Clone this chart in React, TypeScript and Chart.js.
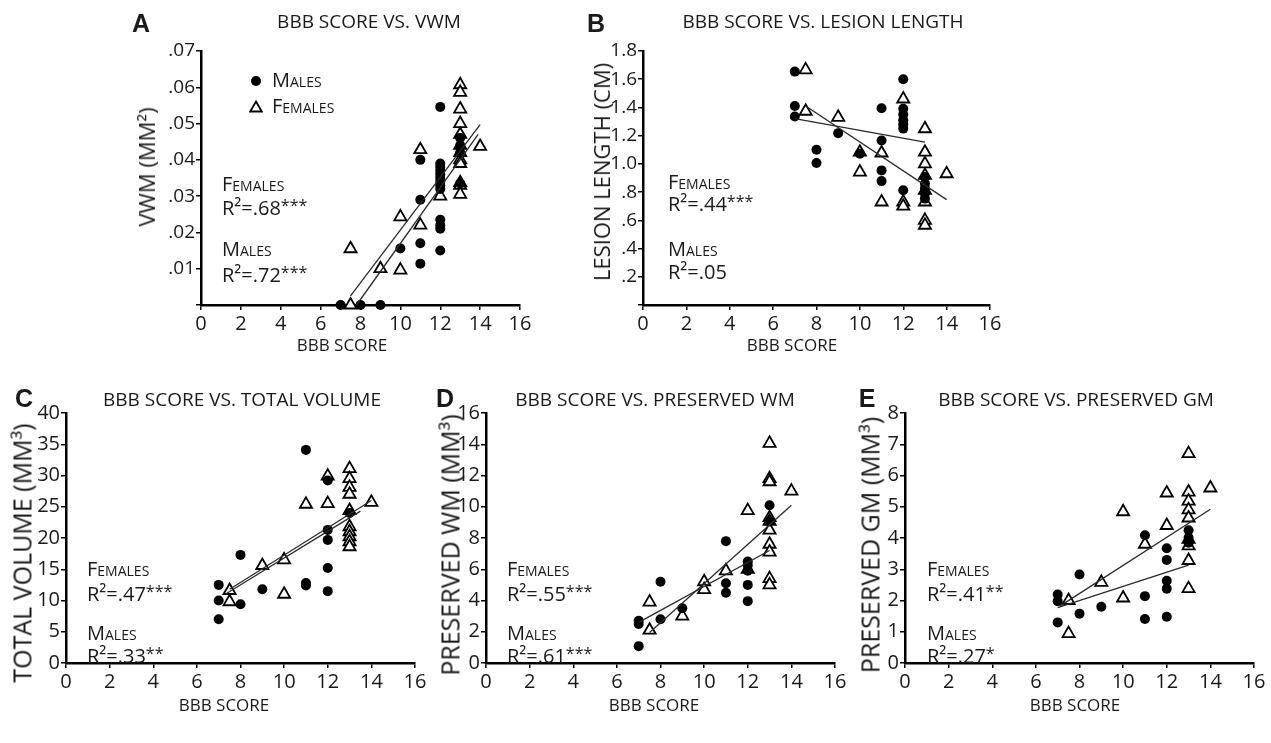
import React, { useEffect, useRef } from 'react';
import { Chart, registerables } from 'chart.js';

Chart.register(...registerables);

type Pt = [number, number];

// ---------- shared x axis ----------
const BBB_TICKS = [0, 2, 4, 6, 8, 10, 12, 14, 16];
const BBB_LABELS = ['0', '2', '4', '6', '8', '10', '12', '14', '16'];

// ---------- Panel A : VWM ----------
const A_Y_TICKS = [0, 0.01, 0.02, 0.03, 0.04, 0.05, 0.06, 0.07];
const A_Y_LABELS = ['', '.01', '.02', '.03', '.04', '.05', '.06', '.07'];
const A_MALES: Pt[] = [
  [7, 0], [8, 0], [9, 0], [10, 0.0156],
  [11, 0.04], [11, 0.029], [11, 0.017], [11, 0.0114],
  [12, 0.0546], [12, 0.039], [12, 0.038], [12, 0.037], [12, 0.036], [12, 0.035], [12, 0.034],
  [12, 0.033], [12, 0.032], [12, 0.0235], [12, 0.022], [12, 0.021], [12, 0.015],
  [13, 0.046], [13, 0.044], [13, 0.042], [13, 0.0335],
];
const A_FEMALES: Pt[] = [
  [7.5, 0], [7.5, 0.0155], [9, 0.01], [10, 0.0243], [10, 0.0096], [11, 0.0428], [11, 0.022], [12, 0.03],
  [13, 0.0607], [13, 0.0586], [13, 0.054], [13, 0.05], [13, 0.047], [13, 0.044], [13, 0.042], [13, 0.04],
  [13, 0.039], [13, 0.0337], [13, 0.033], [13, 0.0305], [14, 0.0437],
];
const A_FIT_MALES: Pt[] = [[7.8, 0.0], [13.9, 0.047]];
const A_FIT_FEMALES: Pt[] = [[7.5, 0.0025], [14, 0.0497]];

// ---------- Panel B : lesion length ----------
const B_Y_TICKS = [0, 0.2, 0.4, 0.6, 0.8, 1.0, 1.2, 1.4, 1.6, 1.8];
const B_Y_LABELS = ['', '.2', '.4', '.6', '.8', '1.0', '1.2', '1.4', '1.6', '1.8'];
const B_MALES: Pt[] = [
  [7, 1.654], [7, 1.41], [7, 1.336], [8, 1.1], [8, 1.006], [9, 1.218], [10, 1.072],
  [11, 1.394], [11, 1.166], [11, 0.954], [11, 0.878],
  [12, 1.6], [12, 1.39], [12, 1.35], [12, 1.31], [12, 1.28], [12, 1.25], [12, 0.813],
  [13, 0.907], [13, 0.86], [13, 0.825], [13, 0.79], [13, 0.754],
];
const B_FEMALES: Pt[] = [
  [7.5, 1.666], [7.5, 1.373], [9, 1.33], [10, 1.083], [10, 0.942], [11, 1.077], [11, 0.73],
  [12, 1.46], [12, 0.73], [12, 0.7],
  [13, 1.249], [13, 1.083], [13, 1.0], [13, 0.918], [13, 0.813], [13, 0.73], [13, 0.6], [13, 0.565],
  [14, 0.93],
];
const B_FIT_MALES: Pt[] = [[7, 1.32], [13, 1.154]];
const B_FIT_FEMALES: Pt[] = [[7.5, 1.41], [14, 0.747]];

// ---------- Panel C : total volume ----------
const C_Y_TICKS = [0, 5, 10, 15, 20, 25, 30, 35, 40];
const C_Y_LABELS = ['0', '5', '10', '15', '20', '25', '30', '35', '40'];
const C_MALES: Pt[] = [
  [7, 12.5], [7, 10.0], [7, 7.0], [8, 17.3], [8, 9.4], [9, 11.8],
  [11, 34.1], [11, 12.8], [11, 12.4],
  [12, 29.2], [12, 21.3], [12, 19.7], [12, 15.2], [12, 11.5], [13, 24.0],
];
const C_FEMALES: Pt[] = [
  [7.5, 11.6], [7.5, 9.8], [9, 15.6], [10, 16.5], [10, 11.0], [11, 25.4], [12, 29.9], [12, 25.5],
  [13, 31.1], [13, 29.5], [13, 28.1], [13, 27.0], [13, 24.4], [13, 21.8], [13, 21.0], [13, 20.2],
  [13, 19.4], [13, 18.6], [14, 25.7],
];
const C_FIT_MALES: Pt[] = [[7.3, 11.0], [13.5, 24.3]];
const C_FIT_FEMALES: Pt[] = [[7.5, 11.8], [14, 26.0]];

// ---------- Panel D : preserved WM ----------
const D_Y_TICKS = [0, 2, 4, 6, 8, 10, 12, 14, 16];
const D_Y_LABELS = ['0', '2', '4', '6', '8', '10', '12', '14', '16'];
const D_MALES: Pt[] = [
  [7, 2.7], [7, 2.5], [7, 1.08], [8, 5.2], [8, 2.8], [9, 3.5],
  [11, 7.8], [11, 5.1], [11, 4.5],
  [12, 6.5], [12, 6.25], [12, 5.9], [12, 5.0], [12, 3.96], [13, 10.1], [13, 9.06],
];
const D_FEMALES: Pt[] = [
  [7.5, 3.9], [7.5, 2.1], [9, 3.0], [10, 5.2], [10, 4.7], [11, 5.9], [12, 9.75], [12, 6.0],
  [13, 14.06], [13, 11.8], [13, 11.6], [13, 9.3], [13, 9.06], [13, 8.5], [13, 7.6], [13, 7.1],
  [13, 5.4], [13, 5.0], [14, 11.0],
];
const D_FIT_MALES: Pt[] = [[7, 2.6], [13, 7.2]];
const D_FIT_FEMALES: Pt[] = [[7.5, 1.95], [14, 10.1]];

// ---------- Panel E : preserved GM ----------
const E_Y_TICKS = [0, 1, 2, 3, 4, 5, 6, 7, 8];
const E_Y_LABELS = ['0', '1', '2', '3', '4', '5', '6', '7', '8'];
const E_MALES: Pt[] = [
  [7, 2.19], [7, 1.98], [7, 1.3], [8, 2.83], [8, 1.58], [9, 1.8],
  [11, 4.09], [11, 2.14], [11, 1.41],
  [12, 3.67], [12, 3.3], [12, 2.63], [12, 2.38], [12, 1.48],
  [13, 4.25], [13, 4.01], [13, 3.85],
];
const E_FEMALES: Pt[] = [
  [7.5, 2.0], [7.5, 0.94], [9, 2.58], [10, 4.84], [10, 2.08], [11, 3.8], [12, 5.44], [12, 4.4],
  [13, 6.7], [13, 5.47], [13, 5.18], [13, 4.9], [13, 4.64], [13, 3.96], [13, 3.75], [13, 3.28],
  [13, 2.38], [14, 5.6],
];
const E_FIT_MALES: Pt[] = [[7, 1.77], [13, 3.13]];
const E_FIT_FEMALES: Pt[] = [[7.1, 1.82], [14, 4.92]];

// ---------- layout ----------
const FONT = "'Open Sans', 'DejaVu Sans', sans-serif";
const INK = '#1a1a1a';
const Y_W = 62;
const X_H = 44;
const PAD_T = 16;
const PAD_R = 16;

interface Box { left: number; top: number; right: number; bottom: number }
interface PanelCfg {
  letter: string; title: string; yTitle: string;
  yTicks: number[]; yLabels: string[];
  males: Pt[]; females: Pt[]; fitM: Pt[]; fitF: Pt[];
  r2F: string; starsF: string; r2M: string; starsM: string;
  box: Box; letterXY: [number, number]; titleXY: [number, number];
  yTitleXY: [number, number]; yTitleSize: number; yTickSize: number;
  xTitleXY: [number, number]; annX: number; annY: number[];
}

const PANELS: PanelCfg[] = [
  {
    letter: 'A', title: 'BBB SCORE VS. VWM', yTitle: 'VWM (MM²)',
    yTicks: A_Y_TICKS, yLabels: A_Y_LABELS, males: A_MALES, females: A_FEMALES,
    fitM: A_FIT_MALES, fitF: A_FIT_FEMALES, r2F: '.68', starsF: '***', r2M: '.72', starsM: '***',
    box: { left: 201, top: 51, right: 520, bottom: 305 },
    letterXY: [141, 32], titleXY: [369, 29], yTitleXY: [146, 167], yTitleSize: 22, yTickSize: 19,
    xTitleXY: [342, 351], annX: 222, annY: [192, 216, 257, 283],
  },
  {
    letter: 'B', title: 'BBB SCORE VS. LESION LENGTH', yTitle: 'LESION LENGTH (CM)',
    yTicks: B_Y_TICKS, yLabels: B_Y_LABELS, males: B_MALES, females: B_FEMALES,
    fitM: B_FIT_MALES, fitF: B_FIT_FEMALES, r2F: '.44', starsF: '***', r2M: '.05', starsM: '',
    box: { left: 643, top: 51, right: 990, bottom: 305 },
    letterXY: [596, 32], titleXY: [823, 29], yTitleXY: [601, 172], yTitleSize: 22, yTickSize: 19,
    xTitleXY: [792, 351], annX: 668, annY: [190, 212, 257, 280],
  },
  {
    letter: 'C', title: 'BBB SCORE VS. TOTAL VOLUME', yTitle: 'TOTAL VOLUME (MM³)',
    yTicks: C_Y_TICKS, yLabels: C_Y_LABELS, males: C_MALES, females: C_FEMALES,
    fitM: C_FIT_MALES, fitF: C_FIT_FEMALES, r2F: '.47', starsF: '***', r2M: '.33', starsM: '**',
    box: { left: 66, top: 413, right: 415, bottom: 663 },
    letterXY: [24, 407], titleXY: [242, 407], yTitleXY: [22, 553], yTitleSize: 25, yTickSize: 20,
    xTitleXY: [224, 711], annX: 87, annY: [577, 602, 641, 664],
  },
  {
    letter: 'D', title: 'BBB SCORE VS. PRESERVED WM', yTitle: 'PRESERVED WM (MM³)',
    yTicks: D_Y_TICKS, yLabels: D_Y_LABELS, males: D_MALES, females: D_FEMALES,
    fitM: D_FIT_MALES, fitF: D_FIT_FEMALES, r2F: '.55', starsF: '***', r2M: '.61', starsM: '***',
    box: { left: 486, top: 413, right: 835, bottom: 663 },
    letterXY: [445, 407], titleXY: [655, 407], yTitleXY: [450, 545], yTitleSize: 25, yTickSize: 20,
    xTitleXY: [654, 711], annX: 507, annY: [577, 602, 641, 664],
  },
  {
    letter: 'E', title: 'BBB SCORE VS. PRESERVED GM', yTitle: 'PRESERVED GM (MM³)',
    yTicks: E_Y_TICKS, yLabels: E_Y_LABELS, males: E_MALES, females: E_FEMALES,
    fitM: E_FIT_MALES, fitF: E_FIT_FEMALES, r2F: '.41', starsF: '**', r2M: '.27', starsM: '*',
    box: { left: 905, top: 413, right: 1254, bottom: 663 },
    letterXY: [867, 407], titleXY: [1076, 407], yTitleXY: [870, 545], yTitleSize: 25, yTickSize: 20,
    xTitleXY: [1075, 711], annX: 927, annY: [577, 602, 641, 664],
  },
];

const toXY = (pts: Pt[]) => pts.map(([x, y]) => ({ x, y }));

function PanelChart({ p }: { p: PanelCfg }) {
  const ref = useRef<HTMLCanvasElement>(null);
  const { box } = p;
  const w = box.right - box.left + Y_W + PAD_R;
  const h = box.bottom - box.top + PAD_T + X_H;
  useEffect(() => {
    const yMax = p.yTicks[p.yTicks.length - 1];
    const fitStyle = { showLine: true, borderColor: '#2b2b2b', borderWidth: 1.3, pointRadius: 0, pointHoverRadius: 0, fill: false, clip: false as const };
    const chart = new Chart(ref.current as HTMLCanvasElement, {
      type: 'scatter',
      data: {
        datasets: [
          { label: 'Males fit', data: toXY(p.fitM), order: 0, ...fitStyle },
          { label: 'Females fit', data: toXY(p.fitF), order: 0, ...fitStyle },
          {
            label: 'Males', data: toXY(p.males), order: 1, pointStyle: 'circle', pointRadius: 5,
            pointHoverRadius: 5, backgroundColor: '#000', borderColor: '#000', borderWidth: 0, clip: false,
          },
          {
            label: 'Females', data: toXY(p.females), order: 2, pointStyle: 'triangle', pointRadius: 7,
            pointHoverRadius: 7, backgroundColor: '#fff', borderColor: '#000', borderWidth: 1.8, clip: false,
          },
        ],
      } as any,
      options: {
        animation: false,
        responsive: false,
        devicePixelRatio: 1,
        events: [],
        layout: { padding: { top: PAD_T, right: PAD_R, left: 0, bottom: 0 } },
        plugins: { legend: { display: false }, tooltip: { enabled: false }, title: { display: false } },
        scales: {
          x: {
            type: 'linear', min: 0, max: 16,
            afterBuildTicks: (s: any) => { s.ticks = BBB_TICKS.map((v) => ({ value: v })); },
            afterFit: (s: any) => { s.height = X_H; s.paddingLeft = 0; s.paddingRight = 0; },
            ticks: {
              autoSkip: false, maxRotation: 0, padding: 2, color: INK,
              font: { family: FONT, size: 20 },
              callback: (_v: any, i: number) => BBB_LABELS[i],
            },
            grid: { drawOnChartArea: false, drawTicks: true, tickLength: 5, color: '#000', lineWidth: 1.5 },
            border: { display: true, color: '#000', width: 2.5 },
          },
          y: {
            type: 'linear', min: 0, max: yMax,
            afterBuildTicks: (s: any) => { s.ticks = p.yTicks.map((v) => ({ value: v })); },
            afterFit: (s: any) => { s.width = Y_W; s.paddingTop = 0; s.paddingBottom = 0; },
            ticks: {
              autoSkip: false, padding: 1, color: INK,
              font: { family: FONT, size: p.yTickSize },
              callback: (_v: any, i: number) => p.yLabels[i],
            },
            grid: { drawOnChartArea: false, drawTicks: true, tickLength: 5, color: '#000', lineWidth: 1.5 },
            border: { display: true, color: '#000', width: 2.5 },
          },
        },
      } as any,
    });
    return () => chart.destroy();
  }, [p]);
  return (
    <canvas
      ref={ref}
      width={w}
      height={h}
      style={{ position: 'absolute', left: box.left - Y_W, top: box.top - PAD_T, width: w, height: h }}
    />
  );
}

function Txt(props: {
  x: number; y: number; size: number; children: React.ReactNode;
  center?: boolean; bold?: boolean; family?: string; smallCaps?: boolean; asc?: number;
}) {
  const { x, y, size, children, center, bold, family, smallCaps, asc } = props;
  const style: React.CSSProperties = {
    position: 'absolute',
    left: x,
    top: y - (asc ?? 0.888) * size,
    fontSize: size,
    lineHeight: `${size}px`,
    fontFamily: family ?? FONT,
    fontWeight: bold ? 700 : 400,
    fontVariant: smallCaps ? 'small-caps' : 'normal',
    color: INK,
    whiteSpace: 'nowrap',
    transform: center ? 'translateX(-50%)' : undefined,
  };
  return <div style={style}>{children}</div>;
}

function Stars({ s }: { s: string }) {
  if (!s) return null;
  return <span style={{ fontSize: '0.8em', position: 'relative', top: '-0.25em' }}>{s}</span>;
}

function PanelText({ p }: { p: PanelCfg }) {
  const ann = 20;
  return (
    <>
      <Txt x={p.letterXY[0]} y={p.letterXY[1]} size={25} center bold family="'Liberation Sans', Arial, sans-serif" asc={0.847}>
        {p.letter}
      </Txt>
      <Txt x={p.titleXY[0]} y={p.titleXY[1]} size={19} center>{p.title}</Txt>
      <Txt x={p.xTitleXY[0]} y={p.xTitleXY[1]} size={17} center>BBB SCORE</Txt>
      <div
        style={{
          position: 'absolute', left: p.yTitleXY[0], top: p.yTitleXY[1], fontFamily: FONT,
          fontSize: p.yTitleSize, lineHeight: `${p.yTitleSize}px`, color: INK, whiteSpace: 'nowrap',
          transform: 'translate(-50%, -50%) rotate(-90deg)',
        }}
      >
        {p.yTitle}
      </div>
      <Txt x={p.annX} y={p.annY[0]} size={ann} smallCaps>Females</Txt>
      <Txt x={p.annX} y={p.annY[1]} size={ann}>R²={p.r2F}<Stars s={p.starsF} /></Txt>
      <Txt x={p.annX} y={p.annY[2]} size={ann} smallCaps>Males</Txt>
      <Txt x={p.annX} y={p.annY[3]} size={ann}>R²={p.r2M}<Stars s={p.starsM} /></Txt>
    </>
  );
}

function Legend() {
  return (
    <>
      <div style={{ position: 'absolute', left: 251, top: 76, width: 10, height: 10, borderRadius: '50%', background: '#000' }} />
      <svg style={{ position: 'absolute', left: 249, top: 100 }} width={14} height={13}>
        <polygon points="7,1.5 12.8,11.5 1.2,11.5" fill="#fff" stroke="#000" strokeWidth={1.8} />
      </svg>
      <Txt x={272} y={88} size={20} smallCaps>Males</Txt>
      <Txt x={272} y={114} size={20} smallCaps>Females</Txt>
    </>
  );
}

export default function App() {
  return (
    <div style={{ position: 'absolute', left: 0, top: 0, width: 1271, height: 743, background: '#fff', overflow: 'hidden' }}>
      {PANELS.map((p) => (
        <PanelChart key={p.letter} p={p} />
      ))}
      {PANELS.map((p) => (
        <PanelText key={'t' + p.letter} p={p} />
      ))}
      <Legend />
    </div>
  );
}
